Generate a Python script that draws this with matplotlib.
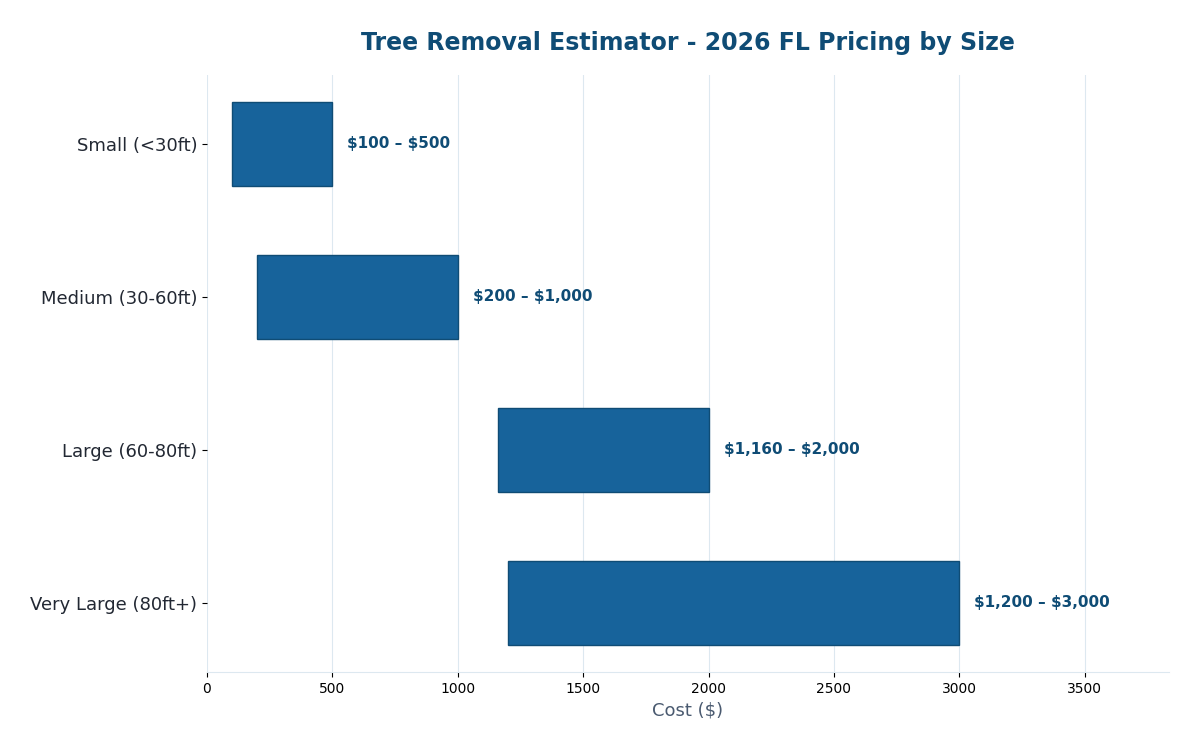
import matplotlib
matplotlib.use("Agg")
import matplotlib.pyplot as plt

categories = ["Small (<30ft)", "Medium (30-60ft)", "Large (60-80ft)", "Very Large (80ft+)"]
low = [100, 200, 1160, 1200]
high = [500, 1000, 2000, 3000]
labels = [r"\$100 – \$500", r"\$200 – \$1,000", r"\$1,160 – \$2,000", r"\$1,200 – \$3,000"]

fig = plt.figure(figsize=(12, 7.5), dpi=100)
ax = fig.add_axes([0.1725, 0.104, 0.8015, 0.796])

widths = [h - l for l, h in zip(low, high)]
ax.barh(categories, widths, left=low, height=0.55, color="#17639b",
        edgecolor="#0f4c75", linewidth=1, zorder=3)

for i, (h, lab) in enumerate(zip(high, labels)):
    ax.text(h + 60, i - 0.005, lab, va="center", ha="left", fontsize=11,
            fontweight="bold", color="#0f4c75", zorder=4)

ax.invert_yaxis()
ax.set_xlim(0, max(high) * 1.2785)
ax.grid(axis="x", color="#dde8f0", linewidth=0.8, zorder=0)
ax.set_axisbelow(True)
for s in ["top", "right", "left"]:
    ax.spines[s].set_visible(False)
ax.spines["bottom"].set_color("#dde8f0")

ax.tick_params(axis="y", labelsize=13, labelcolor="#222833")
ax.tick_params(axis="x", labelsize=10)
ax.set_xlabel("Cost ($)", fontsize=13, color="#4a5a70")
ax.set_title("Tree Removal Estimator - 2026 FL Pricing by Size", fontsize=17,
             fontweight="bold", color="#0f4c75", pad=18)

fig.savefig("out.png")
